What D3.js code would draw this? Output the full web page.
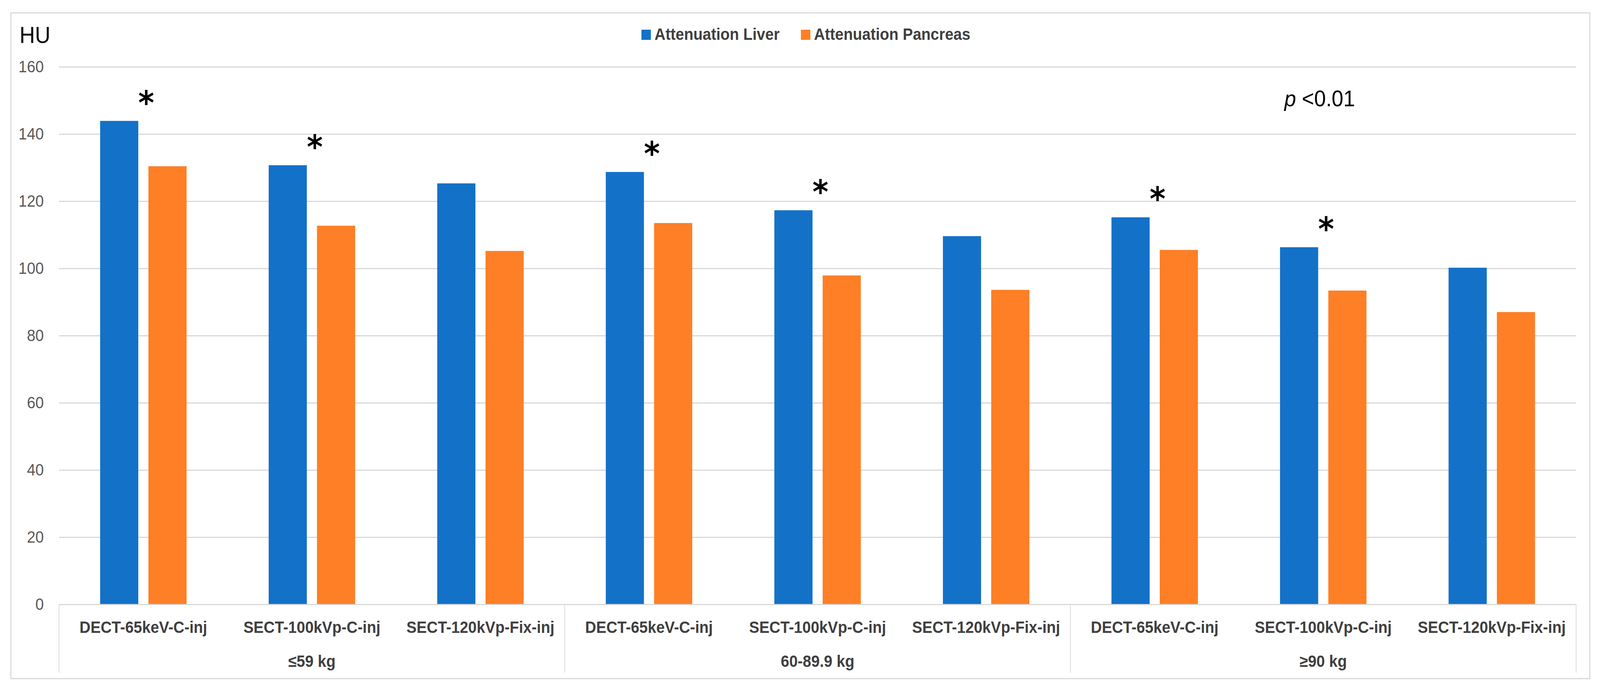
<!DOCTYPE html>
<html>
<head>
<meta charset="utf-8">
<script src="https://cdn.jsdelivr.net/npm/d3@7"></script>
<style>
  html, body { margin: 0; padding: 0; background: #fff; overflow: hidden; }
  #container { width: 100vw; height: 100vh; }
  svg { display: block; width: 100%; height: 100%; }
</style>
</head>
<body>
<div id="container"></div>
<script>
const conditions = [
  "DECT-65keV-C-inj", "SECT-100kVp-C-inj", "SECT-120kVp-Fix-inj",
  "DECT-65keV-C-inj", "SECT-100kVp-C-inj", "SECT-120kVp-Fix-inj",
  "DECT-65keV-C-inj", "SECT-100kVp-C-inj", "SECT-120kVp-Fix-inj"
];
const weightGroups = ["≤59 kg", "60-89.9 kg", "≥90 kg"];
const seriesNames = ["Attenuation Liver", "Attenuation Pancreas"];
const liver = [143.9, 130.7, 125.3, 128.7, 117.3, 109.6, 115.2, 106.3, 100.2];
const pancreas = [130.4, 112.7, 105.2, 113.5, 97.9, 93.6, 105.5, 93.4, 87.0];
const significant = [true, true, false, true, true, false, true, true, false];
const yTicks = [0, 20, 40, 60, 80, 100, 120, 140, 160];

const width = 4415;
const height = 1779;
const marginLeft = 163;
const marginRight = 66;
const marginTop = 171;
const marginBottom = 232;
const font = "'Liberation Sans Narrow', 'Liberation Sans', Arial, sans-serif";
const gridColor = "#d9d9d9";
const colors = ["#1371c8", "#fe7f25"];

const rows = conditions.map((c, i) => ({ i, values: [liver[i], pancreas[i]] }));

const x0 = d3.scaleBand()
  .domain(d3.range(conditions.length))
  .range([marginLeft, width - marginRight])
  .paddingInner(0)
  .paddingOuter(0);

const x1 = d3.scaleBand()
  .domain([0, 1])
  .range([0, x0.bandwidth()])
  .paddingInner(0.21)
  .paddingOuter(0.85);

const groupX = d3.scaleBand()
  .domain(d3.range(weightGroups.length))
  .range([marginLeft, width - marginRight]);

const y = d3.scaleLinear()
  .domain([0, 160])
  .range([height - marginBottom, marginTop]);

const svg = d3.create("svg")
  .attr("viewBox", `0 0 ${width} ${height}`)
  .attr("preserveAspectRatio", "none")
  .style("font-family", font);

// chart frame
svg.append("rect")
  .attr("x", 30).attr("y", 33)
  .attr("width", 4357).attr("height", 1704)
  .attr("fill", "#fff")
  .attr("stroke", gridColor)
  .attr("stroke-width", 3);

// gridlines
svg.append("g")
  .attr("transform", `translate(${marginLeft},0)`)
  .call(d3.axisRight(y).tickValues(yTicks.slice(1)).tickSize(width - marginLeft - marginRight).tickFormat(""))
  .call((g) => g.select(".domain").remove())
  .call((g) => g.selectAll("line").attr("stroke", gridColor).attr("stroke-width", 3));

// y labels
svg.append("g")
  .attr("transform", `translate(${marginLeft},0)`)
  .call(d3.axisLeft(y).tickValues(yTicks).tickSize(0).tickPadding(42))
  .call((g) => g.select(".domain").remove())
  .call((g) => g.selectAll("text")
    .attr("font-family", font)
    .attr("font-size", 42)
    .attr("fill", "#595959"));

// bars
svg.append("g")
  .selectAll("g")
  .data(rows)
  .join("g")
  .attr("transform", (d) => `translate(${x0(d.i)},0)`)
  .selectAll("rect")
  .data((d) => d.values.map((v, k) => ({ k, v })))
  .join("rect")
  .attr("x", (d) => x1(d.k))
  .attr("y", (d) => y(d.v))
  .attr("width", x1.bandwidth())
  .attr("height", (d) => y(0) - y(d.v))
  .attr("fill", (d) => colors[d.k]);

// x axis with category labels
svg.append("g")
  .attr("transform", `translate(0,${y(0)})`)
  .call(d3.axisBottom(x0).tickSize(0).tickPadding(43).tickFormat((i) => conditions[i]))
  .call((g) => g.select(".domain").attr("stroke", gridColor).attr("stroke-width", 3))
  .call((g) => g.selectAll("text")
    .attr("font-family", font)
    .attr("font-size", 42)
    .attr("font-weight", "bold")
    .attr("fill", "#404040"));

// group separators
const seps = [0, 3, 6].map((i) => x0(i)).concat([width - marginRight]);
svg.append("g")
  .selectAll("line")
  .data(seps)
  .join("line")
  .attr("x1", (d) => d).attr("x2", (d) => d)
  .attr("y1", y(0)).attr("y2", 1722)
  .attr("stroke", gridColor)
  .attr("stroke-width", 2);

// group labels
svg.append("g")
  .selectAll("text")
  .data(weightGroups)
  .join("text")
  .attr("x", (d, i) => groupX(i) + groupX.bandwidth() / 2)
  .attr("y", 1707)
  .attr("text-anchor", "middle")
  .attr("font-size", 42)
  .attr("font-weight", "bold")
  .attr("fill", "#404040")
  .text((d) => d);

// significance stars
svg.append("g")
  .selectAll("text")
  .data(rows.filter((d) => significant[d.i]))
  .join("text")
  .attr("x", (d) => x0(d.i) + x0.bandwidth() / 2 + 8)
  .attr("y", (d) => y(d.values[0]) - 70)
  .attr("dy", "0.62em")
  .attr("text-anchor", "middle")
  .attr("font-family", "'DejaVu Sans', sans-serif")
  .attr("font-weight", "bold")
  .attr("font-size", 84)
  .attr("fill", "#000")
  .text("*");

// HU label
svg.append("text")
  .attr("x", 54)
  .attr("y", 110)
  .attr("font-size", 59)
  .attr("fill", "#000")
  .text("HU");

// p value
const pText = svg.append("text")
  .attr("x", 3544)
  .attr("y", 272)
  .attr("font-size", 58)
  .attr("fill", "#000");
pText.append("tspan").attr("font-style", "italic").text("p");
pText.append("tspan").text(" <0.01");

// legend
const legendItems = [
  { name: seriesNames[0], color: colors[0], x: 1770 },
  { name: seriesNames[1], color: colors[1], x: 2210 }
];
const legend = svg.append("g");
legend.selectAll("rect")
  .data(legendItems)
  .join("rect")
  .attr("x", (d) => d.x)
  .attr("y", 76)
  .attr("width", 26)
  .attr("height", 26)
  .attr("fill", (d) => d.color);
legend.selectAll("text")
  .data(legendItems)
  .join("text")
  .attr("x", (d) => d.x + 36)
  .attr("y", 102)
  .attr("font-size", 42)
  .attr("font-weight", "bold")
  .attr("fill", "#404040")
  .text((d) => d.name);

d3.select("#container").append(() => svg.node());
</script>
</body>
</html>
